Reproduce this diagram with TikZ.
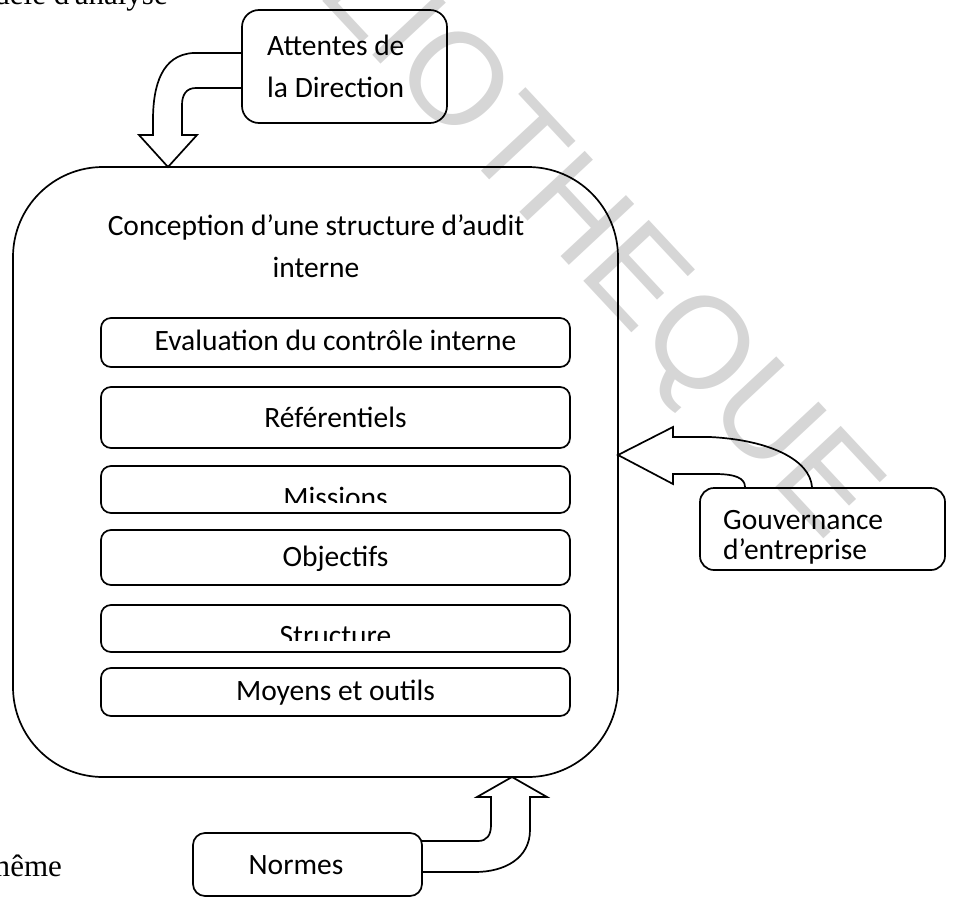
\documentclass[tikz,border=0pt]{standalone}
\usepackage{fontspec}
\setmainfont{Carlito}
\newfontfamily\timesf{Liberation Serif}
\newfontfamily\wmfont{Liberation Sans}
\begin{document}
\begin{tikzpicture}[x=1pt,y=-1pt,
  lbl/.style={font=\fontsize{29.5}{41}\selectfont, inner sep=0pt},
  boxs/.style={draw, line width=1.7pt, rounded corners=10pt, inner sep=0pt, outer sep=0pt},
  barrow/.style={draw, line width=1.7pt, line join=miter}]
\useasboundingbox (0,0) rectangle (956,897);
% watermark
\node[font=\wmfont\fontsize{130}{130}\selectfont, text=black!16, rotate=-47, inner sep=0pt] (wm) at (524,169) {BIBLIOTHEQUE};
% cut-off page texts
\node[font=\timesf\fontsize{31}{31}\selectfont, anchor=base east, inner sep=0pt] (cap) at (168,4) {Modèle d'analyse};
\node[font=\timesf\fontsize{31}{31}\selectfont, anchor=base west, inner sep=0pt] (meme) at (-14,876) {même};
% main box
\node[draw, line width=1.7pt, rounded corners=90pt, minimum width=605pt, minimum height=610pt, inner sep=0pt, outer sep=0pt] (main) at (315.5,472) {};
\node[lbl, anchor=base] (t1) at (316,235) {Conception d’une structure d’audit};
\node[lbl, anchor=base] (t2) at (316,277) {interne};
% inner boxes
\node[boxs, minimum width=469pt, minimum height=49pt] (b1) at (335.5,342.5) {};
\node[boxs, minimum width=469pt, minimum height=61pt] (b2) at (335.5,417.5) {};
\node[boxs, minimum width=469pt, minimum height=47pt] (b3) at (335.5,489.5) {};
\node[boxs, minimum width=469pt, minimum height=55pt] (b4) at (335.5,557.5) {};
\node[boxs, minimum width=469pt, minimum height=47pt] (b5) at (335.5,628.5) {};
\node[boxs, minimum width=469pt, minimum height=48pt] (b6) at (335.5,692) {};
\node[lbl, anchor=base] (l1) at (335.5,350) {Evaluation du contrôle interne};
\node[lbl, anchor=base] (l2) at (335.5,427) {Référentiels};
\begin{scope}
\clip (100,460) rectangle (572,502);
\node[lbl, anchor=base] (l3) at (335.5,507) {Missions};
\end{scope}
\node[lbl, anchor=base] (l4) at (335.5,566) {Objectifs};
\begin{scope}
\clip (100,600) rectangle (572,640);
\node[lbl, anchor=base] (l5) at (335.5,645) {Structure};
\end{scope}
\node[lbl, anchor=base] (l6) at (335.5,700) {Moyens et outils};
% Attentes
\node[draw, line width=1.7pt, rounded corners=17pt, minimum width=205pt, minimum height=113pt, inner sep=0pt, outer sep=0pt] (att) at (344.5,66.5) {};
\node[lbl, anchor=base west] (a1) at (267,55) {Attentes de};
\node[lbl, anchor=base west] (a2) at (267,97) {la Direction};
% Gouvernance
\node[draw, line width=1.7pt, rounded corners=14pt, minimum width=245pt, minimum height=82pt, inner sep=0pt, outer sep=0pt] (gov) at (822.5,529) {};
\node[lbl, anchor=base west] (g1) at (723,529) {Gouvernance};
\node[lbl, anchor=base west] (g2) at (723,559) {d’entreprise};
% Normes
\node[draw, line width=1.7pt, rounded corners=12pt, minimum width=229pt, minimum height=63pt, inner sep=0pt, outer sep=0pt] (nor) at (307.5,864.5) {};
\node[lbl, anchor=base] (n1) at (296,874) {Normes};
% arrow from Attentes
\draw[barrow] (att.west |- 0,53) -- (193,53) .. controls (162,55) and (153,85) .. (153,120) -- (153,135) -- (139,135) -- (main.north -| 168,0) -- (197,135) -- (182,135) -- (182,105) .. controls (182,95) and (186,88) .. (196,88) -- (att.west |- 0,88);
% arrow from Gouvernance
\draw[barrow] (gov.north -| 812,0) -- (812,487) .. controls (810,460) and (770,440) .. (710,437) -- (673,437) -- (673,427) -- (main.east |- 0,455) -- (673,484) -- (673,474) -- (715,474) .. controls (735,474) and (745,478) .. (745,487) -- (gov.north -| 745,0);
% arrow from Normes
\draw[barrow] (nor.east |- 0,841) -- (478,841) .. controls (487,841) and (491,835) .. (491,825) -- (491,797) -- (477,797) -- (main.south -| 512,0) -- (547,797) -- (530,797) -- (530,830) .. controls (530,858) and (505,872) .. (475,872) -- (nor.east |- 0,872);
\end{tikzpicture}
\end{document}
